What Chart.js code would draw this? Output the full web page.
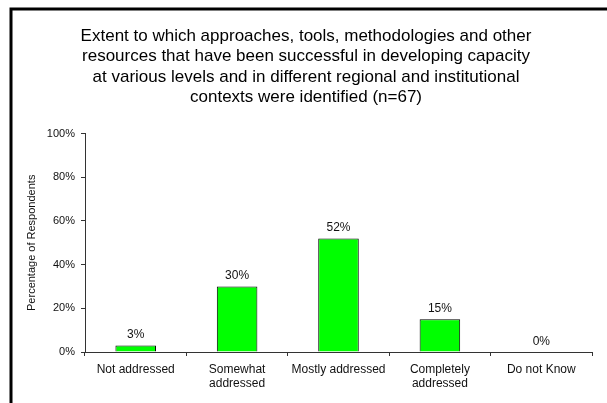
<!DOCTYPE html>
<html>
<head>
<meta charset="utf-8">
<script src="https://cdn.jsdelivr.net/npm/chart.js@4"></script>
<style>
  html, body { margin: 0; padding: 0; background: #fff; }
  #wrap { width: 607px; height: 403px; position: relative; }
</style>
</head>
<body>
<div id="wrap"><canvas id="extentChart"></canvas></div>
<script>
// ========== DATA ==========
const categories = [
    'Not addressed',
    ['Somewhat', 'addressed'],
    'Mostly addressed',
    ['Completely', 'addressed'],
    'Do not Know'
];
const percentValues = [3, 30, 52, 15, 0];
const yTicks = [0, 20, 40, 60, 80, 100];
const titleLines = [
    'Extent to which approaches, tools, methodologies and other',
    'resources that have been successful in developing capacity',
    'at various levels and in different regional and institutional',
    'contexts were identified (n=67)'
];
const yAxisTitle = 'Percentage of Respondents';

const FONT = 'Arial, "Liberation Sans", Helvetica, sans-serif';

// ========== PLUGINS ==========
// black frame along the top and left edge, as in the original export
const framePlugin = {
    id: 'frame',
    afterDraw(chart) {
        const c = chart.ctx;
        c.save();
        c.strokeStyle = '#000';
        c.lineWidth = 3;
        c.beginPath();
        c.moveTo(11, chart.height);
        c.lineTo(11, 9);
        c.lineTo(chart.width, 9);
        c.stroke();
        c.restore();
    }
};

// value labels above each bar
const valueLabels = {
    id: 'valueLabels',
    afterDatasetsDraw(chart) {
        const c = chart.ctx;
        const meta = chart.getDatasetMeta(0);
        c.save();
        c.font = '12px ' + FONT;
        c.fillStyle = '#111';
        c.textAlign = 'center';
        c.textBaseline = 'alphabetic';
        meta.data.forEach((bar, i) => {
            c.fillText(percentValues[i] + '%', bar.x, bar.y - 7);
        });
        c.restore();
    }
};

// ========== CHART ==========
const ctx = document.getElementById('extentChart').getContext('2d');
new Chart(ctx, {
    type: 'bar',
    data: {
        labels: categories,
        datasets: [{
            data: percentValues,
            backgroundColor: '#00ff00',
            borderColor: '#000',
            borderWidth: 1,
            borderSkipped: 'bottom',
            barPercentage: 0.4,
            categoryPercentage: 1.0
        }]
    },
    options: {
        responsive: true,
        maintainAspectRatio: false,
        animation: false,
        layout: { padding: { left: 20, right: 15, top: 0, bottom: 0 } },
        plugins: {
            legend: { display: false },
            tooltip: { enabled: false },
            title: {
                display: true,
                text: titleLines,
                color: '#000',
                font: { family: FONT, size: 17, weight: 'normal', lineHeight: 1.2 },
                padding: { top: 26, bottom: 26 }
            }
        },
        scales: {
            x: {
                offset: true,
                grid: {
                    offset: true,
                    drawOnChartArea: false,
                    drawTicks: true,
                    tickLength: 4,
                    color: '#333'
                },
                border: { display: true, color: '#333', width: 1 },
                ticks: {
                    color: '#111',
                    padding: 6,
                    maxRotation: 0,
                    autoSkip: false,
                    font: { family: FONT, size: 12, lineHeight: 1.2 }
                },
                afterFit(scale) { scale.height = 51; }
            },
            y: {
                min: 0,
                max: 100,
                afterBuildTicks(scale) {
                    scale.ticks = yTicks.map(v => ({ value: v }));
                },
                grid: {
                    drawOnChartArea: false,
                    drawTicks: true,
                    tickLength: 4,
                    color: '#333'
                },
                border: { display: true, color: '#333', width: 1 },
                ticks: {
                    color: '#111',
                    padding: 6,
                    font: { family: FONT, size: 11 },
                    callback: function(value) { return value + '%'; }
                },
                title: {
                    display: true,
                    text: yAxisTitle,
                    color: '#111',
                    font: { family: FONT, size: 11 },
                    padding: { top: 5, bottom: 0 }
                },
                afterFit(scale) { scale.width = 65; }
            }
        }
    },
    plugins: [framePlugin, valueLabels]
});
</script>
</body>
</html>
